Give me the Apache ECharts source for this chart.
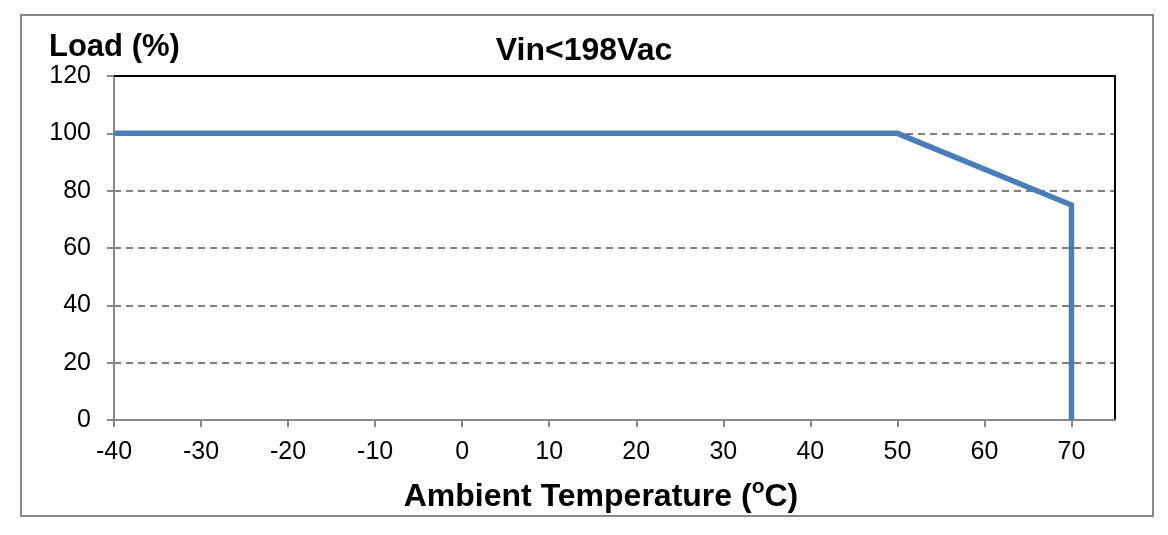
<!DOCTYPE html>
<html>
<head>
<meta charset="utf-8">
<script src="https://cdn.jsdelivr.net/npm/echarts@6/dist/echarts.min.js"></script>
<style>
html,body{margin:0;padding:0;background:#fff;}
#chart{width:1168px;height:535px;}
</style>
</head>
<body>
<div id="chart"></div>
<script>
var temperatures = [-40, 50, 70, 70];
var loads = [100, 100, 75, 0];
var xTicks = [-40, -30, -20, -10, 0, 10, 20, 30, 40, 50, 60, 70];
var yTicks = [0, 20, 40, 60, 80, 100, 120];
var titleText = 'Vin<198Vac';
var yTitle = 'Load (%)';

var FONT = "'Liberation Sans', Arial, sans-serif";
var chart = echarts.init(document.getElementById('chart'), null, {renderer: 'canvas'});

var seriesData = temperatures.map(function (t, i) { return [t, loads[i]]; });

chart.setOption({
  animation: false,
  backgroundColor: '#ffffff',
  grid: {left: 114, right: 53, top: 76, bottom: 115, containLabel: false},
  xAxis: [{
    type: 'value', min: -40, max: 75, interval: 10, position: 'bottom',
    axisLine: {show: true, onZero: false, lineStyle: {color: '#888888', width: 2}},
    axisTick: {show: true, length: 7, customValues: xTicks, lineStyle: {color: '#888888', width: 2}},
    axisLabel: {customValues: xTicks, margin: 20, color: '#000', fontSize: 25, fontFamily: FONT},
    splitLine: {show: false}
  }, {
    type: 'value', min: -40, max: 75, interval: 10, position: 'top',
    axisLine: {show: true, onZero: false, lineStyle: {color: '#000000', width: 2}},
    axisTick: {show: false}, axisLabel: {show: false}, splitLine: {show: false}
  }],
  yAxis: [{
    type: 'value', min: 0, max: 120, interval: 20, position: 'left',
    axisLine: {show: true, onZero: false, lineStyle: {color: '#888888', width: 2}},
    axisTick: {show: true, length: 7, customValues: yTicks, lineStyle: {color: '#888888', width: 2}},
    axisLabel: {customValues: yTicks, margin: 23, color: '#000', fontSize: 25, fontFamily: FONT},
    splitLine: {show: true, showMinLine: false, showMaxLine: false, lineStyle: {color: '#808080', width: 2, type: [7, 5]}}
  }, {
    type: 'value', min: 0, max: 120, interval: 20, position: 'right',
    axisLine: {show: true, onZero: false, lineStyle: {color: '#000000', width: 2}},
    axisTick: {show: false}, axisLabel: {show: false}, splitLine: {show: false}
  }],
  graphic: [
    {type: 'rect', z: 0, silent: true, shape: {x: 21, y: 15, width: 1132, height: 501},
     style: {fill: 'none', stroke: '#888888', lineWidth: 2}},
    {type: 'text', x: 49, y: 32, silent: true,
     style: {text: yTitle, fontSize: 31, fontWeight: 'bold', fontFamily: FONT, fill: '#000'}},
    {type: 'text', x: 584, y: 35, silent: true,
     style: {text: titleText, fontSize: 32, fontWeight: 'bold', fontFamily: FONT, fill: '#000', align: 'center'}},
    {type: 'text', x: 601, y: 477, silent: true,
     style: {
       text: '{m|Ambient Temperature (}{s|o}{m|C)}',
       align: 'center', fill: '#000',
       rich: {
         m: {fontSize: 32, fontWeight: 'bold', fontFamily: FONT, fill: '#000', lineHeight: 36, verticalAlign: 'bottom'},
         s: {fontSize: 21, fontWeight: 'bold', fontFamily: FONT, fill: '#000', lineHeight: 36, verticalAlign: 'top', padding: [0, 0, 12, 0]}
       }
     }}
  ],
  series: [{
    type: 'line', xAxisIndex: 0, yAxisIndex: 0,
    data: seriesData, showSymbol: false, symbol: 'none',
    lineStyle: {color: '#4a7ebb', width: 5.5, join: 'miter', cap: 'butt'},
    z: 5
  }]
});
</script>
</body>
</html>
